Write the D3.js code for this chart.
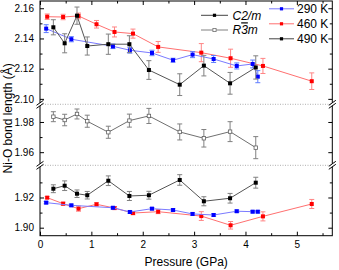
<!DOCTYPE html>
<html>
<head>
<meta charset="utf-8">
<script src="https://cdn.jsdelivr.net/npm/d3@7"></script>
<style>
body { margin: 0; background: #fff; }
svg { display: block; font-family: "Liberation Sans", Arial, sans-serif; }
</style>
</head>
<body>
<div id="chart"></div>
<script>
// 290 K  (pressure in GPa, bond lengths in Angstrom)
var p290 = [0.12, 0.61, 1.42, 1.75, 2.18, 2.59, 2.97, 3.38, 3.83, 4.14, 4.24];
var long290 = [2.1465, 2.1395, 2.1348, 2.1322, 2.1304, 2.1256, 2.1293, 2.1264, 2.1218, 2.1231, 2.1147];
var longErr290 = [0.0026, 0.0017, 0.0015, 0.0019, 0.0018, 0.0013, 0.002, 0.0023, 0.002, 0.0026, 0.004];
var short290 = [1.9166, 1.9148, 1.9132, 1.9104, 1.9126, 1.9117, 1.9091, 1.9084, 1.9109, 1.9106, 1.9106];
var shortErr290 = [0.0008, 0.0008, 0.0008, 0.0008, 0.0008, 0.0008, 0.0008, 0.0008, 0.0008, 0.0008, 0.0008];

// 460 K
var p460 = [0.14, 0.45, 0.75, 1.10, 1.45, 1.81, 2.30, 3.14, 3.71, 4.34, 5.29];
var long460 = [2.1544, 2.1542, 2.1549, 2.1494, 2.1443, 2.1432, 2.1344, 2.1306, 2.1269, 2.1218, 2.1117];
var longErr460 = [0.0018, 0.0018, 0.0019, 0.0025, 0.0033, 0.003, 0.0036, 0.006, 0.006, 0.005, 0.0055];
var short460 = [1.9199, 1.9159, 1.9126, 1.9155, 1.9130, 1.9097, 1.9106, 1.9077, 1.9016, 1.9075, 1.9157];
var shortErr460 = [0.0007, 0.001, 0.0017, 0.001, 0.001, 0.0011, 0.0013, 0.0029, 0.0025, 0.003, 0.003];

// 490 K  (C2/m long + short, R-3m)
var p490 = [0.26, 0.48, 0.72, 0.92, 1.33, 1.74, 2.12, 2.72, 3.19, 3.70, 4.20];
var long490 = [2.1474, 2.1368, 2.1551, 2.1350, 2.1362, 2.1362, 2.1191, 2.1094, 2.1220, 2.1103, 2.1208];
var longErr490 = [0.005, 0.0063, 0.0057, 0.006, 0.0067, 0.0056, 0.0062, 0.0072, 0.0068, 0.0072, 0.0077];
var r3m490 = [1.9835, 1.9813, 1.9853, 1.9805, 1.9732, 1.9809, 1.9840, 1.9734, 1.9692, 1.9736, 1.9630];
var r3mErr490 = [0.0033, 0.0038, 0.0033, 0.004, 0.004, 0.0043, 0.005, 0.0053, 0.0058, 0.0066, 0.0073];
var short490 = [1.9258, 1.9278, 1.9225, 1.9215, 1.9311, 1.9210, 1.9215, 1.9316, 1.9175, 1.9195, 1.9298];
var shortErr490 = [0.0026, 0.0032, 0.0025, 0.0025, 0.0032, 0.003, 0.0026, 0.0035, 0.003, 0.0032, 0.0036];

// broken y axis: top, middle, bottom pieces
var segDomains = [[2.0964, 2.1648], [1.9513, 1.9917], [1.8947, 1.9413]];
var segMajor = [[2.10, 2.12, 2.14, 2.16], [1.96, 1.98], [1.90, 1.92]];
var segMinor = [[2.11, 2.13, 2.15], [1.97], [1.91, 1.93]];
var xMajor = [0, 1, 2, 3, 4, 5];
var xMinor = [0.5, 1.5, 2.5, 3.5, 4.5, 5.5];

var svgWidth = 339, svgHeight = 270;
var margin = {top: 1, right: 6.7, bottom: 34.3, left: 40};
var width = svgWidth - margin.left - margin.right;
var height = svgHeight - margin.top - margin.bottom;

var svg = d3.select("#chart").append("svg")
  .attr("width", svgWidth)
  .attr("height", svgHeight);

var g = svg.append("g")
  .attr("transform", `translate(${margin.left}, ${margin.top})`);

var x = d3.scaleLinear().domain([0, 5.69]).range([0, width]);

var totalSpan = d3.sum(segDomains, d => d[1] - d[0]);
var yPos = 0;
var ys = segDomains.map(function(dom) {
  var h = (dom[1] - dom[0]) / totalSpan * height;
  var s = d3.scaleLinear().domain(dom).range([yPos + h, yPos]);
  yPos += h;
  return s;
});
var breaks = [ys[0].range()[0], ys[1].range()[0]];

// dotted lines at the breaks
breaks.forEach(function(b) {
  g.append("line")
    .attr("x1", 0).attr("x2", width)
    .attr("y1", b).attr("y2", b)
    .attr("stroke", "#9a9a9a")
    .attr("stroke-width", 0.8)
    .attr("stroke-dasharray", "1,1.5");
});

function drawSeries(px, vals, errs, y, st) {
  var pts = px.map((p, i) => ({p: p, v: vals[i], e: errs[i]}));
  var eg = g.append("g").attr("stroke", st.err).attr("stroke-width", 1);
  pts.forEach(function(d) {
    var cx = x(d.p), y1 = y(d.v - d.e), y2 = y(d.v + d.e);
    eg.append("line").attr("x1", cx).attr("x2", cx).attr("y1", y1).attr("y2", y2);
    eg.append("line").attr("x1", cx - 2.5).attr("x2", cx + 2.5).attr("y1", y1).attr("y2", y1);
    eg.append("line").attr("x1", cx - 2.5).attr("x2", cx + 2.5).attr("y1", y2).attr("y2", y2);
  });
  g.append("path")
    .datum(pts)
    .attr("fill", "none")
    .attr("stroke", st.line)
    .attr("stroke-width", 1)
    .attr("d", d3.line().x(d => x(d.p)).y(d => y(d.v)));
  var s = st.size;
  g.selectAll(null)
    .data(pts)
    .enter()
    .append("rect")
    .attr("x", d => x(d.p) - s / 2)
    .attr("y", d => y(d.v) - s / 2)
    .attr("width", s)
    .attr("height", s)
    .attr("fill", st.fill)
    .attr("stroke", st.stroke || "none")
    .attr("stroke-width", 0.8);
}

var blue = {line: "#7a7aff", err: "#5f7dff", fill: "#0000ff", size: 4};
var red = {line: "#ff7070", err: "#ff8585", fill: "#ff0000", size: 4};
var black = {line: "#555555", err: "#808080", fill: "#000000", size: 4};
var open = {line: "#707070", err: "#808080", fill: "#ffffff", stroke: "#606060", size: 3.4};

drawSeries(p460, long460, longErr460, ys[0], red);
drawSeries(p290, long290, longErr290, ys[0], blue);
drawSeries(p490, long490, longErr490, ys[0], black);
drawSeries(p490, r3m490, r3mErr490, ys[1], open);
drawSeries(p460, short460, shortErr460, ys[2], red);
drawSeries(p290, short290, shortErr290, ys[2], blue);
drawSeries(p490, short490, shortErr490, ys[2], black);

// axes
function tidy(sel) {
  sel.select(".domain").remove();
  sel.selectAll("line").attr("stroke", "#000");
  sel.selectAll("text").attr("fill", "#000");
}

ys.forEach(function(y, i) {
  g.append("g").attr("font-size", 11)
    .call(d3.axisLeft(y).tickValues(segMajor[i]).tickSize(-4).tickPadding(6).tickFormat(d3.format(".2f")))
    .call(tidy);
  g.append("g")
    .call(d3.axisLeft(y).tickValues(segMinor[i]).tickSize(-2.5).tickFormat(""))
    .call(tidy);
  g.append("g").attr("transform", `translate(${width},0)`)
    .call(d3.axisRight(y).tickValues(segMajor[i]).tickSize(-4).tickFormat(""))
    .call(tidy);
  g.append("g").attr("transform", `translate(${width},0)`)
    .call(d3.axisRight(y).tickValues(segMinor[i]).tickSize(-2.5).tickFormat(""))
    .call(tidy);
});

g.append("g").attr("transform", `translate(0,${height})`).attr("font-size", 11)
  .call(d3.axisBottom(x).tickValues(xMajor).tickSize(-4).tickPadding(5).tickFormat(d3.format("d")))
  .call(tidy);
g.append("g").attr("transform", `translate(0,${height})`)
  .call(d3.axisBottom(x).tickValues(xMinor).tickSize(-2.5).tickFormat(""))
  .call(tidy);
g.append("g")
  .call(d3.axisTop(x).tickValues(xMajor).tickSize(-4).tickFormat(""))
  .call(tidy);
g.append("g")
  .call(d3.axisTop(x).tickValues(xMinor).tickSize(-2.5).tickFormat(""))
  .call(tidy);

// frame
g.append("rect")
  .attr("width", width).attr("height", height)
  .attr("fill", "none").attr("stroke", "#000").attr("stroke-width", 1);

// break marks on both side axes
breaks.forEach(function(b) {
  [0, width].forEach(function(ax) {
    g.append("rect")
      .attr("x", ax - 1.5).attr("y", b - 1.5)
      .attr("width", 3).attr("height", 3)
      .attr("fill", "#fff");
    [-1.5, 1.5].forEach(function(o) {
      g.append("line")
        .attr("x1", ax - 3.5).attr("y1", b + o + 2.5)
        .attr("x2", ax + 3.5).attr("y2", b + o - 2.5)
        .attr("stroke", "#000").attr("stroke-width", 1);
    });
  });
});

// axis titles
svg.append("text")
  .attr("transform", `translate(12, ${margin.top + height / 2}) rotate(-90)`)
  .attr("text-anchor", "middle")
  .attr("font-size", 12)
  .text("Ni-O bond length (Å)");

svg.append("text")
  .attr("x", margin.left + width / 2)
  .attr("y", 266)
  .attr("text-anchor", "middle")
  .attr("font-size", 12)
  .text("Pressure (GPa)");

// legends
var legLeft = [
  {label: "C2/m", line: "#444444", fill: "#000000", stroke: "none"},
  {label: "R3m", line: "#808080", fill: "#ffffff", stroke: "#707070"}
];
var legRight = [
  {label: "290 K", line: "#7a7aff", fill: "#0000ff"},
  {label: "460 K", line: "#ff7070", fill: "#ff0000"},
  {label: "490 K", line: "#444444", fill: "#000000"}
];

function legendRow(x0, x1, tx, yy, d, italic) {
  svg.append("line")
    .attr("x1", x0).attr("x2", x1).attr("y1", yy).attr("y2", yy)
    .attr("stroke", d.line).attr("stroke-width", 1);
  svg.append("rect")
    .attr("x", (x0 + x1) / 2 - 1.6).attr("y", yy - 1.6)
    .attr("width", 3.2).attr("height", 3.2)
    .attr("fill", d.fill)
    .attr("stroke", d.stroke || "none").attr("stroke-width", 0.8);
  var t = svg.append("text")
    .attr("x", tx).attr("y", yy + 4.3)
    .attr("font-size", 12)
    .attr("font-style", italic ? "italic" : "normal");
  if (d.label === "R3m") {
    t.append("tspan").text("R");
    t.append("tspan").style("text-decoration", "overline").text("3");
    t.append("tspan").text("m");
  } else {
    t.text(d.label);
  }
}

legLeft.forEach((d, i) => legendRow(201, 228, 232.5, 15.3 + i * 14.7, d, true));
legRight.forEach((d, i) => legendRow(269, 294, 297, 8.8 + i * 15, d, false));
</script>
</body>
</html>
